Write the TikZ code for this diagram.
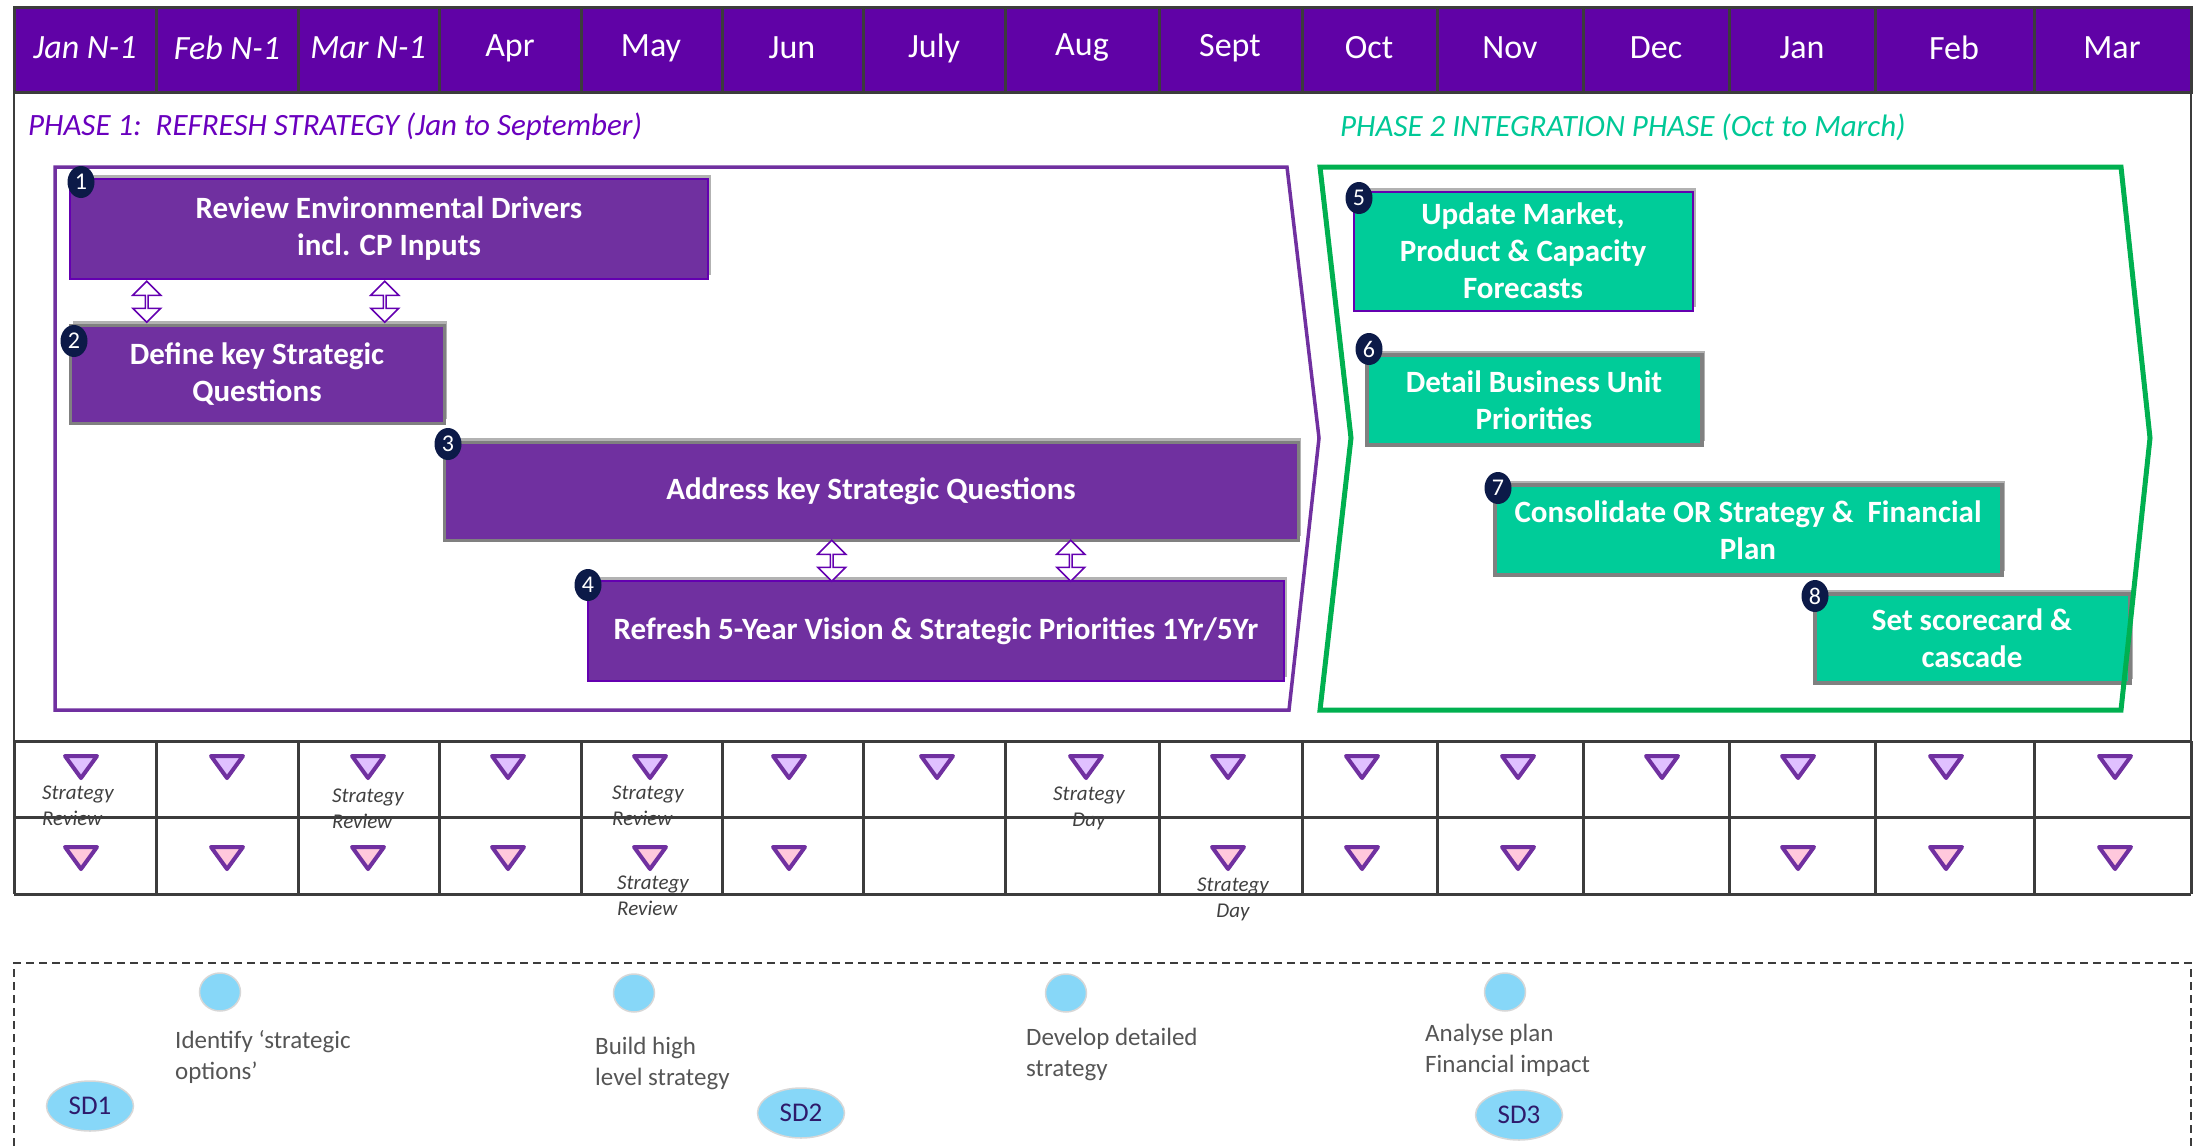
\documentclass[tikz,border=0pt]{standalone}
\usepackage{fontspec}
\setmainfont{Carlito}
\usetikzlibrary{shapes.geometric,shapes.arrows,shadows,calc}
\definecolor{HeaderPurple}{RGB}{96,2,166}
\definecolor{GridGray}{RGB}{60,60,60}
\definecolor{BoxPurple}{RGB}{112,48,160}
\definecolor{EdgePurple}{RGB}{100,0,176}
\definecolor{TitlePurple}{RGB}{106,0,190}
\definecolor{EdgeGrey}{RGB}{128,128,128}
\definecolor{Teal}{RGB}{0,204,153}
\definecolor{TitleTeal}{RGB}{0,200,150}
\definecolor{PhaseGreen}{RGB}{0,176,80}
\definecolor{Navy}{RGB}{12,26,72}
\definecolor{Lavender}{RGB}{224,192,255}
\definecolor{Blush}{RGB}{255,200,220}
\definecolor{SkyBlue}{RGB}{135,215,248}
\definecolor{RimGrey}{RGB}{215,215,215}
\definecolor{SDInk}{RGB}{46,26,107}
\definecolor{LabelGrey}{RGB}{64,64,64}
\definecolor{NoteGrey}{RGB}{85,85,85}

\begin{document}
\begin{tikzpicture}[x=1pt,y=1pt,yscale=-1,xscale=1,
    month/.style={inner sep=0pt, text=white, font=\fontsize{34}{40}\selectfont},
    gridline/.style={draw=GridGray, line width=3pt},
    phasetitle/.style={anchor=west, inner sep=0pt, font=\itshape\fontsize{31}{36}\selectfont},
    taskbox/.style={fill=BoxPurple, draw=EdgePurple, line width=2pt, text=white, align=center, inner sep=0pt,
        font=\bfseries\fontsize{31}{37}\selectfont,
        drop shadow={shadow xshift=3pt, shadow yshift=4pt, opacity=.3, fill=black}},
    greybox/.style={taskbox, draw=EdgeGrey, line width=3pt},
    greenbox/.style={taskbox, fill=Teal, draw=EdgeGrey, line width=4pt},
    badge/.style={ellipse, fill=Navy, text=white, inner sep=0pt, minimum width=27pt, minimum height=32pt, font=\fontsize{24}{24}\selectfont},
    updown/.style={double arrow, shape border rotate=90, draw=EdgePurple, fill=white, line width=1.5pt, inner sep=0pt,
        minimum height=41pt, minimum width=28pt, double arrow head extend=7pt},
    tri1/.style={draw=BoxPurple, fill=Lavender, line width=4pt, line join=round},
    tri2/.style={tri1, fill=Blush},
    eventlbl/.style={inner sep=0pt, align=left, text=LabelGrey, font=\itshape\fontsize{21}{26}\selectfont},
    bluedot/.style={ellipse, fill=SkyBlue, draw=RimGrey, line width=1.5pt, inner sep=0pt, minimum width=41pt, minimum height=38pt},
    sdmark/.style={bluedot, minimum width=87pt, minimum height=50pt, text=SDInk, font=\fontsize{27}{27}\selectfont},
    note/.style={anchor=north west, inner sep=0pt, align=left, text=NoteGrey, font=\fontsize{25}{31}\selectfont}]
    \useasboundingbox (0,0) rectangle (2195,1146);

    % Month band across the top
    \fill[HeaderPurple] (14,7) rectangle (2191,92);
    \draw[gridline] (14,7) rectangle (2191,92);
    \draw[gridline] (156,7) -- (156,92) (298,7) -- (298,92) (439,7) -- (439,92) (581,7) -- (581,92)
        (722,7) -- (722,92) (863,7) -- (863,92) (1005,7) -- (1005,92) (1159,7) -- (1159,92)
        (1302,7) -- (1302,92) (1437,7) -- (1437,92) (1583,7) -- (1583,92) (1729,7) -- (1729,92)
        (1875,7) -- (1875,92) (2034,7) -- (2034,92);

    % Month names
    \node[month] (mjan0) at (85,48) {\itshape Jan N-1};
    \node[month] (mfeb0) at (227,48) {\itshape Feb N-1};
    \node[month] (mmar0) at (368,48) {\itshape Mar N-1};
    \node[month] (mapr) at (510,48) {Apr};
    \node[month] (mmay) at (651,48) {May};
    \node[month] (mjun) at (792,48) {Jun};
    \node[month] (mjul) at (934,48) {July};
    \node[month] (maug) at (1082,48) {Aug};
    \node[month] (msep) at (1230,48) {Sept};
    \node[month] (moct) at (1369,48) {Oct};
    \node[month] (mnov) at (1510,48) {Nov};
    \node[month] (mdec) at (1656,48) {Dec};
    \node[month] (mjan) at (1802,48) {Jan};
    \node[month] (mfeb) at (1954,48) {Feb};
    \node[month] (mmar) at (2112,48) {Mar};

    % Side rules of the main panel
    \draw[GridGray, line width=2pt] (14,92) -- (14,741) (2191,92) -- (2191,741);

    % Phase titles
    \node[phasetitle, text=TitlePurple] (ph1) at (28,127) {PHASE 1:\ \ REFRESH STRATEGY (Jan to September)};
    \node[phasetitle, text=TitleTeal] (ph2) at (1340,127) {PHASE 2 INTEGRATION PHASE (Oct to March)};

    % Phase 1 chevron outline
    \draw[BoxPurple, line width=3.5pt] (55,167) -- (1287,167) -- (1319,438) -- (1289,710) -- (55,710) -- cycle;

    % Phase 1 tasks
    \node[taskbox, minimum width=638pt, minimum height=100pt] (b1) at (389,229) {Review Environmental Drivers\\incl. CP Inputs};
    \node[greybox, minimum width=374pt, minimum height=98pt] (b2) at (257,374) {Define key Strategic\\Questions};
    \node[greybox, minimum width=854pt, minimum height=98pt] (b3) at (871,491) {Address key Strategic Questions};
    \node[taskbox, minimum width=696pt, minimum height=100pt] (b4) at (936,631) {Refresh 5-Year Vision \& Strategic Priorities 1Yr/5Yr};

    % Two-way links between tasks
    \node[updown] (ud1) at ($(b1.south west)!.5!(b2.north west)+(78,0)$) {};
    \node[updown] (ud2) at ($(b1.south west)!.5!(b2.north west)+(316,0)$) {};
    \node[updown] (ud3) at ($(b3.south west)!.5!(b4.north west)+(317,0)$) {};
    \node[updown] (ud4) at ($(b3.south west)!.5!(b4.north west)+(556,0)$) {};

    % Phase 2 tasks
    \node[taskbox, fill=Teal, minimum width=339pt, minimum height=119pt] (b5) at (1523,251) {Update Market,\\Product \& Capacity\\Forecasts};
    \node[greenbox, minimum width=335pt, minimum height=90pt] (b6) at (1534,400) {Detail Business Unit\\Priorities};
    \node[greenbox, minimum width=507pt, minimum height=90pt] (b7) at (1748,530) {Consolidate OR Strategy \&\ \ Financial\\Plan};
    \node[greenbox, minimum width=315pt, minimum height=89pt] (b8) at (1972,638) {Set scorecard \&\\cascade};

    % Phase 2 chevron outline
    \draw[PhaseGreen, line width=5pt] (1320,167) -- (2121,167) -- (2150,438) -- (2121,710) -- (1320,710) -- (1351,438) -- cycle;

    % Step numbers
    \node[badge] (n1) at (81,182) {1};
    \node[badge] (n2) at (74,341) {2};
    \node[badge] (n3) at (448,444) {3};
    \node[badge] (n4) at (588,585) {4};
    \node[badge] (n5) at (1359,198) {5};
    \node[badge] (n6) at (1369,349) {6};
    \node[badge] (n7) at (1498,488) {7};
    \node[badge] (n8) at (1815,596) {8};

    % Milestone grid
    \draw[gridline] (14,741) -- (2191,741) (14,817) -- (2191,817) (14,894) -- (2191,894);
    \draw[gridline] (14,741) -- (14,894) (156,741) -- (156,894) (298,741) -- (298,894) (439,741) -- (439,894)
        (581,741) -- (581,894) (722,741) -- (722,894) (863,741) -- (863,894) (1005,741) -- (1005,894)
        (1159,741) -- (1159,894) (1302,741) -- (1302,894) (1437,741) -- (1437,894) (1583,741) -- (1583,894)
        (1729,741) -- (1729,894) (1875,741) -- (1875,894) (2034,741) -- (2034,894) (2191,741) -- (2191,894);

    % Milestones, first row
    \draw[tri1] (81,756) ++(-16,0) -- ++(32,0) -- ++(-16,22) -- cycle;
    \draw[tri1] (227,756) ++(-16,0) -- ++(32,0) -- ++(-16,22) -- cycle;
    \draw[tri1] (368,756) ++(-16,0) -- ++(32,0) -- ++(-16,22) -- cycle;
    \draw[tri1] (508,756) ++(-16,0) -- ++(32,0) -- ++(-16,22) -- cycle;
    \draw[tri1] (650,756) ++(-16,0) -- ++(32,0) -- ++(-16,22) -- cycle;
    \draw[tri1] (789,756) ++(-16,0) -- ++(32,0) -- ++(-16,22) -- cycle;
    \draw[tri1] (937,756) ++(-16,0) -- ++(32,0) -- ++(-16,22) -- cycle;
    \draw[tri1] (1086,756) ++(-16,0) -- ++(32,0) -- ++(-16,22) -- cycle;
    \draw[tri1] (1228,756) ++(-16,0) -- ++(32,0) -- ++(-16,22) -- cycle;
    \draw[tri1] (1362,756) ++(-16,0) -- ++(32,0) -- ++(-16,22) -- cycle;
    \draw[tri1] (1518,756) ++(-16,0) -- ++(32,0) -- ++(-16,22) -- cycle;
    \draw[tri1] (1662,756) ++(-16,0) -- ++(32,0) -- ++(-16,22) -- cycle;
    \draw[tri1] (1798,756) ++(-16,0) -- ++(32,0) -- ++(-16,22) -- cycle;
    \draw[tri1] (1946,756) ++(-16,0) -- ++(32,0) -- ++(-16,22) -- cycle;
    \draw[tri1] (2115,756) ++(-16,0) -- ++(32,0) -- ++(-16,22) -- cycle;

    % Milestones, second row
    \draw[tri2] (81,847) ++(-16,0) -- ++(32,0) -- ++(-16,22) -- cycle;
    \draw[tri2] (227,847) ++(-16,0) -- ++(32,0) -- ++(-16,22) -- cycle;
    \draw[tri2] (368,847) ++(-16,0) -- ++(32,0) -- ++(-16,22) -- cycle;
    \draw[tri2] (508,847) ++(-16,0) -- ++(32,0) -- ++(-16,22) -- cycle;
    \draw[tri2] (650,847) ++(-16,0) -- ++(32,0) -- ++(-16,22) -- cycle;
    \draw[tri2] (789,847) ++(-16,0) -- ++(32,0) -- ++(-16,22) -- cycle;
    \draw[tri2] (1228,847) ++(-16,0) -- ++(32,0) -- ++(-16,22) -- cycle;
    \draw[tri2] (1362,847) ++(-16,0) -- ++(32,0) -- ++(-16,22) -- cycle;
    \draw[tri2] (1518,847) ++(-16,0) -- ++(32,0) -- ++(-16,22) -- cycle;
    \draw[tri2] (1798,847) ++(-16,0) -- ++(32,0) -- ++(-16,22) -- cycle;
    \draw[tri2] (1946,847) ++(-16,0) -- ++(32,0) -- ++(-16,22) -- cycle;
    \draw[tri2] (2115,847) ++(-16,0) -- ++(32,0) -- ++(-16,22) -- cycle;

    % Milestone captions
    \node[eventlbl, anchor=north west] (sr1) at (42,786) {Strategy\\Review};
    \node[eventlbl, anchor=north west] (sr2) at (332,789) {Strategy\\Review};
    \node[eventlbl, anchor=north west] (sr3) at (612,786) {Strategy\\Review};
    \node[eventlbl, anchor=north, align=center] (sd1) at (1089,787) {Strategy\\Day};
    \node[eventlbl, anchor=north west] (sr4) at (617,876) {Strategy\\Review};
    \node[eventlbl, anchor=north, align=center] (sd2) at (1233,878) {Strategy\\Day};

    % Strategy development strip (dashed, runs off the bottom)
    \draw[GridGray, line width=1.5pt, dash pattern=on 8pt off 5pt] (14,1146) -- (14,963) -- (2191,963) -- (2191,1146);

    \node[bluedot] (c1) at (220,992) {};
    \node[bluedot] (c2) at (634,993) {};
    \node[bluedot] (c3) at (1066,993) {};
    \node[bluedot] (c4) at (1505,992) {};

    \node[note] (t1) at (175,1030) {Identify ‘strategic\\options’};
    \node[note] (t2) at (595,1037) {Build high\\level strategy};
    \node[note] (t3) at (1026,1028) {Develop detailed\\strategy};
    \node[note] (t4) at (1425,1024) {Analyse plan\\Financial impact};

    \node[sdmark] (sd1m) at (90,1106) {SD1};
    \node[sdmark] (sd2m) at (801,1113) {SD2};
    \node[sdmark] (sd3m) at (1519,1115) {SD3};
\end{tikzpicture}
\end{document}
